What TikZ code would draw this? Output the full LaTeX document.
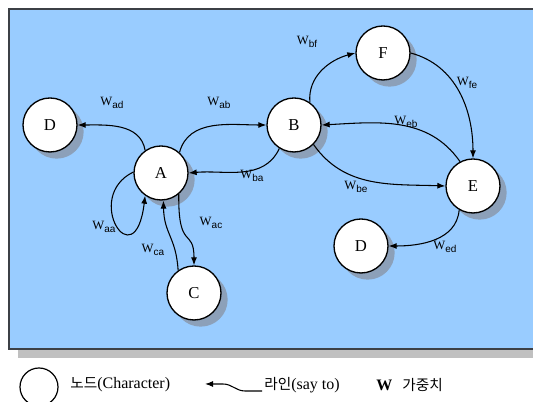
\documentclass[tikz,border=0pt]{standalone}
\usepackage{fontspec}
\setmainfont{Liberation Serif}
\setsansfont{Liberation Sans}
\newfontfamily\krfont{Noto Sans CJK KR}
\usetikzlibrary{arrows.meta,positioning,shadows}

\definecolor{panelblue}{RGB}{153,204,255}
\definecolor{panelrim}{RGB}{60,64,70}
\definecolor{panelshade}{RGB}{192,192,192}
\definecolor{nodeshade}{RGB}{140,160,185}

% weight label: serif W with a sans subscript
\newcommand{\wgt}[1]{W\raisebox{-2.5pt}{\sffamily\fontsize{7.5}{9}\selectfont #1}}

\begin{document}
\begin{tikzpicture}[
  x=0.75pt, y=0.75pt,
  chara/.style={circle, draw, line width=1pt, fill=white, minimum size=40.5pt, inner sep=0pt,
    font=\fontsize{12.5}{14}\selectfont,
    drop shadow={shadow xshift=5pt, shadow yshift=-5pt, fill=nodeshade, opacity=1}},
  say/.style={-{Latex[length=6pt,width=4.5pt]}, line width=0.8pt},
  wlab/.style={font=\fontsize{9.5}{11}\selectfont, inner sep=1pt},
  legtext/.style={font=\fontsize{12}{14}\selectfont, inner sep=0pt, anchor=west},
]
  \useasboundingbox (0,0) rectangle (533,402);
  % panel and its shadow
  \fill[panelshade] (18,44) rectangle (545,56);
  \filldraw[fill=panelblue, draw=panelrim, line width=1.4pt] (9,53) rectangle (545,393);

  % characters
  \node[chara] (d1) at (50,277) {D};
  \node[chara] (a) at (161,229) {A};
  \node[chara] (b) at (294,277) {B};
  \node[chara] (f) at (383,349) {F};
  \node[chara] (e) at (473,216) {E};
  \node[chara] (d2) at (361,156) {D};
  \node[chara] (c) at (194,109) {C};

  % who says what to whom
  \draw[say] (a.125) to[out=100, in=0] (d1.east);
  \draw[say] (a.48) to[out=75, in=180] (b.west);
  \draw[say] (b.238) to[out=245, in=5] (a.east);
  \draw[say] (a.178) .. controls (82,205) and (135,122) .. (a.235);
  \draw[say] (a.-50) .. controls (178,150) and (194,175) .. (c.north);
  \draw[say] (c.125) .. controls (176,165) and (164,168) .. (a.275);
  \draw[say] (b.55) to[out=95, in=195] (f.west);
  \draw[say] (f.east) to[out=-15, in=90] (e.north);
  \draw[say] (e.118) to[out=125, in=3] (b.east);
  \draw[say] (b.-45) to[out=-55, in=178] (e.west);
  \draw[say] (e.240) to[out=-95, in=0] (d2.east);

  \node[wlab] (wad) at (112,299) {\wgt{ad}};
  \node[wlab] (wab) at (219,299) {\wgt{ab}};
  \node[wlab] (wba) at (252,226) {\wgt{ba}};
  \node[wlab] (waa) at (104,175) {\wgt{aa}};
  \node[wlab] (wac) at (211,179) {\wgt{ac}};
  \node[wlab] (wca) at (153,152) {\wgt{ca}};
  \node[wlab] (wbf) at (307,360) {\wgt{bf}};
  \node[wlab] (wfe) at (467,319) {\wgt{fe}};
  \node[wlab] (web) at (406,280) {\wgt{eb}};
  \node[wlab] (wbe) at (356,215) {\wgt{be}};
  \node[wlab] (wed) at (445,155) {\wgt{ed}};

  % legend
  \node[circle, draw, line width=0.9pt, minimum size=28.5pt, inner sep=0pt] (lgcirc) at (39,15) {};
  \node[legtext] (lgnode) at (70,17) {{\krfont\fontsize{11}{13}\selectfont 노드}(Character)};
  \node[legtext] (lgline) at (264,17) {{\krfont\fontsize{11}{13}\selectfont 라인}(say to)};
  \node[legtext] (lgw) at (376,17) {\textbf{W}};
  \node[legtext] (lgwt) at (402,17) {\krfont\fontsize{11}{13}\selectfont 가중치};
  \coordinate (lgtail) at (262,11);
  \coordinate (lgtip) at (205,18);
  \draw[say] (lgtail) -- ++(-17,0) to[out=180, in=0] ++(-22,7) -- (lgtip);
\end{tikzpicture}
\end{document}
